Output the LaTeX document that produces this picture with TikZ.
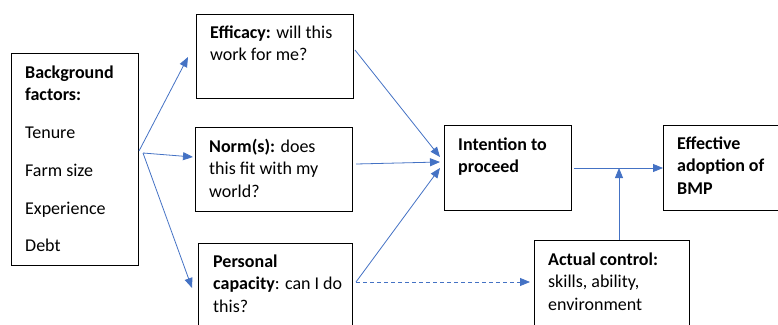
\documentclass[tikz,border=0pt]{standalone}
\usepackage{fontspec}
\setmainfont{Carlito}
\usetikzlibrary{arrows.meta}
\definecolor{arrowblue}{RGB}{68,114,196}
\begin{document}
\begin{tikzpicture}[x=1pt,y=-1pt,
 box/.style={draw=black,line width=1.2pt,anchor=north west,inner sep=0pt},
 txt/.style={anchor=north west,inner sep=0pt,align=left,font=\fontsize{18}{22.5}\selectfont},
 item/.style={anchor=base west,inner sep=0pt,font=\fontsize{18}{22.5}\selectfont},
 conn/.style={draw=arrowblue,line width=0.8pt,-{Triangle[length=10pt,width=8pt]}},
 dconn/.style={conn,dash pattern=on 4pt off 3pt},
]
\useasboundingbox (0,0) rectangle (778,324);
\clip (0,0) rectangle (778,324);
% boxes
\node[box,minimum width=127pt,minimum height=212pt] (bg) at (11,53) {};
\node[box,minimum width=157pt,minimum height=84pt] (eff) at (196,14) {};
\node[box,minimum width=157pt,minimum height=84pt] (norm) at (195,127) {};
\node[box,minimum width=154pt,minimum height=100pt] (pers) at (198,243) {};
\node[box,minimum width=127pt,minimum height=85pt] (int) at (444,125) {};
\node[box,minimum width=140pt,minimum height=85pt] (adopt) at (663,125) {};
\node[box,minimum width=155pt,minimum height=100pt] (ctrl) at (534,240) {};
% texts
\node[txt] (bgt) at (25,62.25) {\strut\textbf{Background}\\\textbf{factors:}};
\node[item] (i1) at (25,138) {Tenure};
\node[item] (i2) at (25,176) {Farm size};
\node[item] (i3) at (25,214) {Experience};
\node[item] (i4) at (25,251) {Debt};
\node[txt] (efft) at (210,22.25) {\strut\textbf{Efficacy:} will this\\work for me?};
\node[txt] (normt) at (209,136.25) {\strut\textbf{Norm(s):} does\\this fit with my\\world?};
\node[txt] (perst) at (213,251.25) {\strut\textbf{Personal}\\\textbf{capacity}: can I do\\this?};
\node[txt] (intt) at (458,134.25) {\strut\textbf{Intention to}\\\textbf{proceed}};
\node[txt] (adoptt) at (677,133.25) {\strut\textbf{Effective}\\\textbf{adoption of}\\\textbf{BMP}};
\node[txt] (ctrlt) at (548,249.25) {\strut\textbf{Actual control:}\\skills, ability,\\environment};
% connector end points
\coordinate (b1) at (139,151);
\coordinate (b2) at (143,153);
\coordinate (e1) at (188,57);
\coordinate (e2) at (193,157);
\coordinate (e3) at (192,288);
\coordinate (s1) at (355,50);
\coordinate (s2) at (356,164);
\coordinate (s3) at (356,282);
\coordinate (t1) at (440,157);
\coordinate (t2) at (440,162);
\coordinate (t3) at (440,168);
\coordinate (t4) at (530,282);
\coordinate (s5) at (574,168);
\coordinate (t5) at (663,168);
\coordinate (s6) at (619,240);
\coordinate (t6) at (619,168);
% connectors
\draw[conn] (b1) -- (e1);
\draw[conn] (b2) -- (e2);
\draw[conn] (b2) -- (e3);
\draw[conn] (s1) -- (t1);
\draw[conn] (s2) -- (t2);
\draw[conn] (s3) -- (t3);
\draw[dconn] (s3) -- (t4);
\draw[conn] (s5) -- (t5);
\draw[conn] (s6) -- (t6);
\end{tikzpicture}
\end{document}
